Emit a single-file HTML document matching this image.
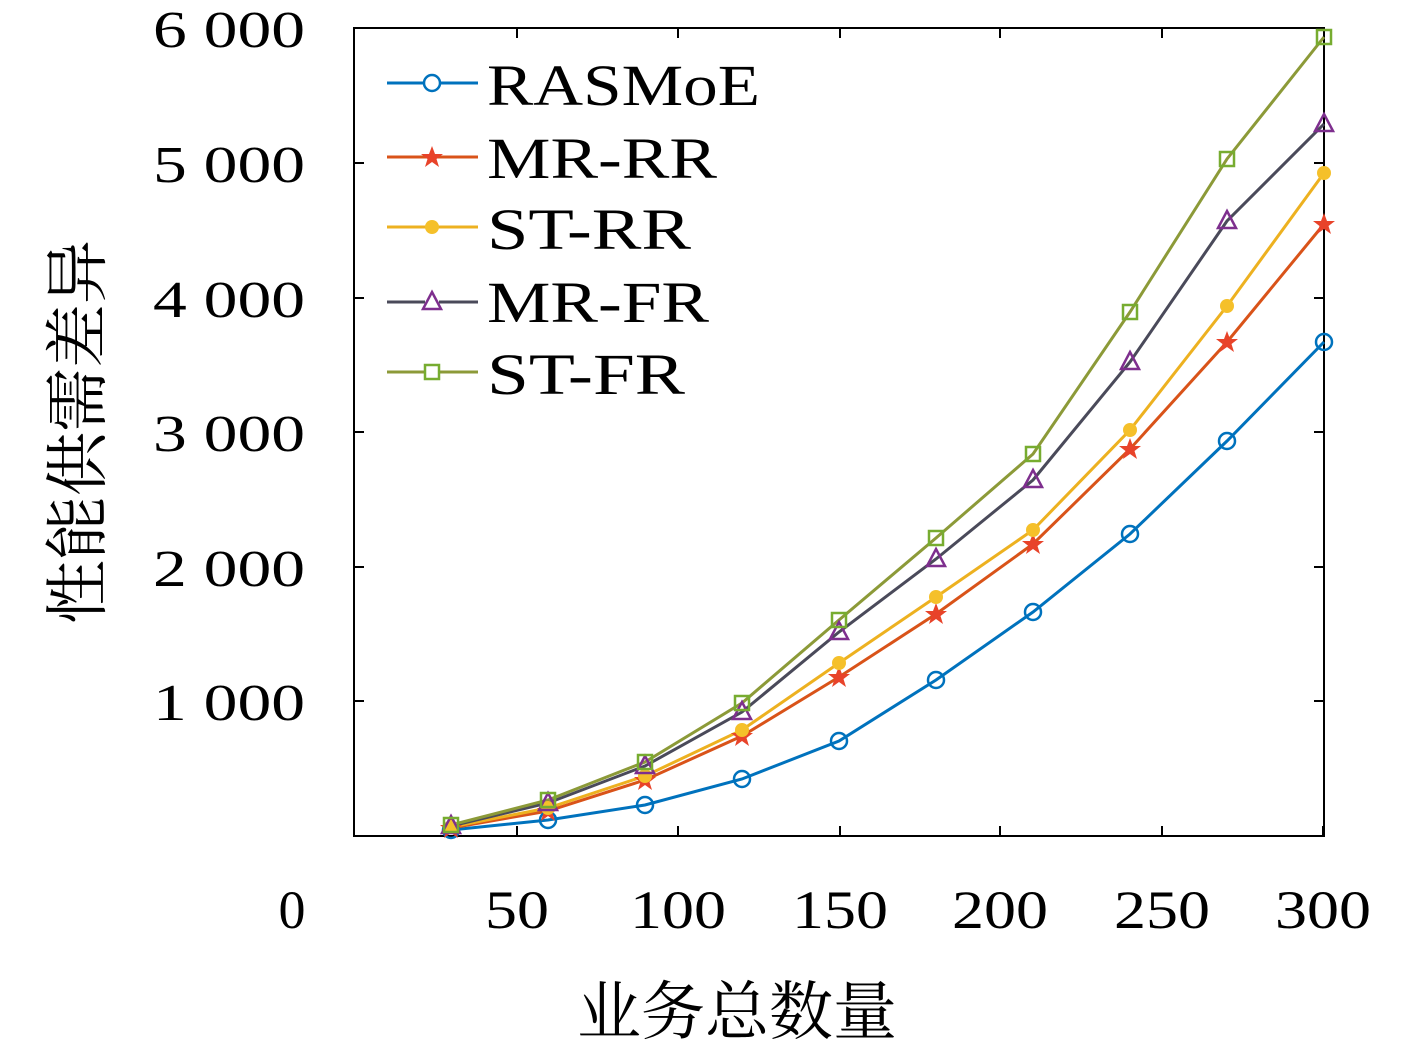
<!DOCTYPE html>
<html><head><meta charset="utf-8"><style>body{margin:0;background:#fff}svg{display:block}</style></head><body>
<svg width="1417" height="1046" xmlns="http://www.w3.org/2000/svg" font-family="'Liberation Serif','Noto Serif CJK SC',serif">
<rect width="1417" height="1046" fill="#fff"/>
<g stroke="#000" stroke-width="2" fill="none">
<rect x="354" y="28" width="970" height="808"/>
<path d="M517 836v-10M678 836v-10M840 836v-10M1000 836v-10M1162 836v-10M1323 836v-10
M517 28v10M678 28v10M840 28v10M1000 28v10M1162 28v10
M354 701h10M354 567h10M354 432h10M354 298h10M354 163h10
M1324 701h-10M1324 567h-10M1324 432h-10M1324 298h-10M1324 163h-10"/>
</g>
<g font-size="52" fill="#000" lengthAdjust="spacingAndGlyphs">
<text x="153" y="47" textLength="152" lengthAdjust="spacingAndGlyphs">6 000</text>
<text x="153" y="182" textLength="152" lengthAdjust="spacingAndGlyphs">5 000</text>
<text x="153" y="317" textLength="152" lengthAdjust="spacingAndGlyphs">4 000</text>
<text x="153" y="451" textLength="152" lengthAdjust="spacingAndGlyphs">3 000</text>
<text x="153" y="586" textLength="152" lengthAdjust="spacingAndGlyphs">2 000</text>
<text x="153" y="720" textLength="152" lengthAdjust="spacingAndGlyphs">1 000</text>
</g>
<g font-size="54" fill="#000" text-anchor="middle">
<text x="292" y="928">0</text>
<text x="517" y="928" textLength="64" lengthAdjust="spacingAndGlyphs">50</text>
<text x="678" y="928" textLength="96" lengthAdjust="spacingAndGlyphs">100</text>
<text x="840" y="928" textLength="96" lengthAdjust="spacingAndGlyphs">150</text>
<text x="1000" y="928" textLength="96" lengthAdjust="spacingAndGlyphs">200</text>
<text x="1162" y="928" textLength="96" lengthAdjust="spacingAndGlyphs">250</text>
<text x="1323" y="928" textLength="96" lengthAdjust="spacingAndGlyphs">300</text>
</g>
<g font-size="64" fill="#000" text-anchor="middle">
<text x="737" y="1034">业务总数量</text>
<text transform="translate(100,432) rotate(-90)">性能供需差异</text>
</g>
<g fill="none" stroke-width="3">
<polyline stroke="#0072BD" points="451,830 548,820 645,805 742,779 839,741 936,680 1033,612 1130,534 1227,441 1324,342"/>
<polyline stroke="#D95319" points="451,828 548,811 645,780 742,736 839,677 936,614 1033,544 1130,449 1227,342 1324,224"/>
<polyline stroke="#EDB120" points="451,827 548,808 645,776 742,730 839,663 936,597 1033,530 1130,430 1227,306 1324,173"/>
<polyline stroke="#4a4a5a" points="451,826 548,803 645,766 742,712 839,632 936,559 1033,480 1130,362 1227,221 1324,124"/>
<polyline stroke="#8c9a38" points="451,825 548,800 645,762 742,703 839,620 936,538 1033,454 1130,312 1227,159 1324,37"/>
</g>
<g fill="none" stroke="#0072BD" stroke-width="2.5">
<circle cx="451" cy="830" r="8"/><circle cx="548" cy="820" r="8"/><circle cx="645" cy="805" r="8"/><circle cx="742" cy="779" r="8"/><circle cx="839" cy="741" r="8"/><circle cx="936" cy="680" r="8"/><circle cx="1033" cy="612" r="8"/><circle cx="1130" cy="534" r="8"/><circle cx="1227" cy="441" r="8"/><circle cx="1324" cy="342" r="8"/>
</g>
<defs>
<path id="st" d="M0,-11 L3,-3 11,-3 4.5,2 7,10 0,5 -7,10 -4.5,2 -11,-3 -3,-3Z" fill="#e8432a"/>
<path id="tr" d="M0,-10 L9,7 -9,7Z" fill="none" stroke="#7E2F8E" stroke-width="2.5"/>
<rect id="sq" x="-7" y="-7" width="14" height="14" fill="none" stroke="#77AC30" stroke-width="2.5"/>
</defs>
<g>
<use href="#st" x="451" y="828"/><use href="#st" x="548" y="811"/><use href="#st" x="645" y="780"/><use href="#st" x="742" y="736"/><use href="#st" x="839" y="677"/><use href="#st" x="936" y="614"/><use href="#st" x="1033" y="544"/><use href="#st" x="1130" y="449"/><use href="#st" x="1227" y="342"/><use href="#st" x="1324" y="224"/>
</g>
<g fill="#f5c02a">
<circle cx="451" cy="827" r="7"/><circle cx="548" cy="808" r="7"/><circle cx="645" cy="776" r="7"/><circle cx="742" cy="730" r="7"/><circle cx="839" cy="663" r="7"/><circle cx="936" cy="597" r="7"/><circle cx="1033" cy="530" r="7"/><circle cx="1130" cy="430" r="7"/><circle cx="1227" cy="306" r="7"/><circle cx="1324" cy="173" r="7"/>
</g>
<g>
<use href="#tr" x="451" y="826"/><use href="#tr" x="548" y="803"/><use href="#tr" x="645" y="766"/><use href="#tr" x="742" y="712"/><use href="#tr" x="839" y="632"/><use href="#tr" x="936" y="559"/><use href="#tr" x="1033" y="480"/><use href="#tr" x="1130" y="362"/><use href="#tr" x="1227" y="221"/><use href="#tr" x="1324" y="124"/>
<use href="#sq" x="451" y="825"/><use href="#sq" x="548" y="800"/><use href="#sq" x="645" y="762"/><use href="#sq" x="742" y="703"/><use href="#sq" x="839" y="620"/><use href="#sq" x="936" y="538"/><use href="#sq" x="1033" y="454"/><use href="#sq" x="1130" y="312"/><use href="#sq" x="1227" y="159"/><use href="#sq" x="1324" y="37"/>
</g>
<g stroke-width="3">
<line x1="387" y1="83" x2="478" y2="83" stroke="#0072BD"/>
<line x1="387" y1="157" x2="478" y2="157" stroke="#D95319"/>
<line x1="387" y1="227" x2="478" y2="227" stroke="#EDB120"/>
<line x1="387" y1="302" x2="478" y2="302" stroke="#4a4a5a"/>
<line x1="387" y1="372" x2="478" y2="372" stroke="#8c9a38"/>
</g>
<circle cx="432" cy="83" r="8" fill="#fff" stroke="#0072BD" stroke-width="2.5"/>
<use href="#st" x="432" y="157"/><circle cx="432" cy="227" r="7" fill="#f5c02a"/>
<rect x="425" y="294" width="14" height="14" fill="#fff"/><use href="#tr" x="432" y="302"/>
<rect x="425" y="365" width="14" height="14" fill="#fff"/><use href="#sq" x="432" y="372"/>
<g font-size="58" fill="#000">
<text x="487" y="105" textLength="273" lengthAdjust="spacingAndGlyphs">RASMoE</text>
<text x="487" y="178" textLength="230" lengthAdjust="spacingAndGlyphs">MR-RR</text>
<text x="487" y="249" textLength="204" lengthAdjust="spacingAndGlyphs">ST-RR</text>
<text x="487" y="322" textLength="222" lengthAdjust="spacingAndGlyphs">MR-FR</text>
<text x="487" y="394" textLength="198" lengthAdjust="spacingAndGlyphs">ST-FR</text>
</g>
</svg>
</body></html>
